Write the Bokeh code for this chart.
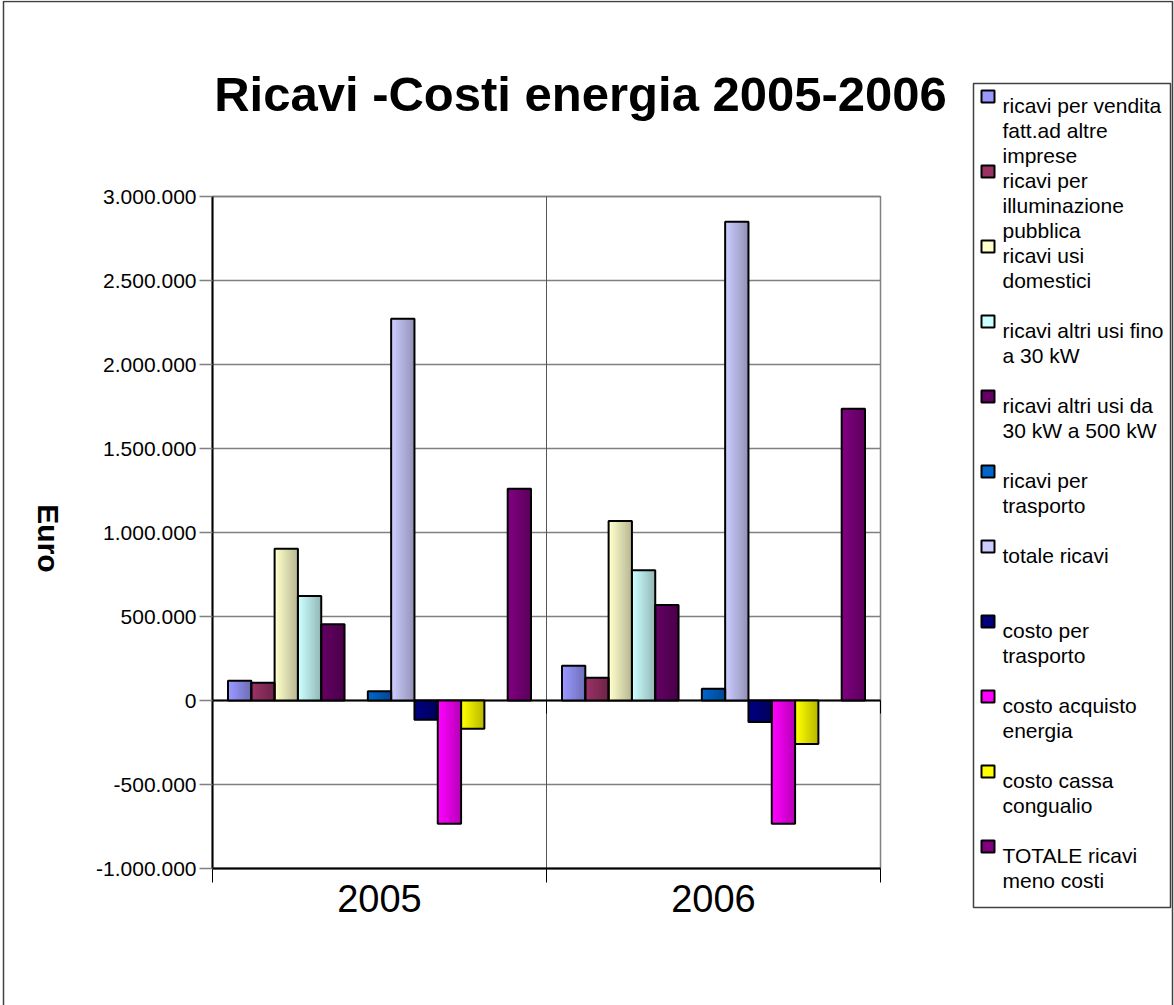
import math
from bokeh.plotting import figure
from bokeh.models import FixedTicker, LinearAxis, Range1d
from bokeh.core.properties import value
from bokeh.embed import file_html
from bokeh.resources import INLINE

# ---- data -------------------------------------------------------------
years = ["2005", "2006"]

series_names = [
    "ricavi per vendita fatt.ad altre imprese",
    "ricavi per illuminazione pubblica",
    "ricavi usi domestici",
    "ricavi altri usi fino a 30 kW",
    "ricavi altri usi da 30 kW a 500 kW",
    "ricavi per trasporto",
    "totale ricavi",
    "costo per trasporto",
    "costo acquisto energia",
    "costo cassa congualio",
    "TOTALE ricavi meno costi",
]
legend_lines = [
    ["ricavi per vendita", "fatt.ad altre", "imprese"],
    ["ricavi per", "illuminazione", "pubblica"],
    ["ricavi usi", "domestici"],
    ["ricavi altri usi fino", "a 30 kW"],
    ["ricavi altri usi da", "30 kW a 500 kW"],
    ["ricavi per", "trasporto"],
    ["totale ricavi"],
    ["costo per", "trasporto"],
    ["costo acquisto", "energia"],
    ["costo cassa", "congualio"],
    ["TOTALE ricavi", "meno costi"],
]
values_2005 = [118000, 105000, 904000, 622000, 454000, 55000,
               2273000, -114000, -733000, -168000, 1261000]
values_2006 = [207000, 136000, 1068000, 775000, 568000, 70000,
               2850000, -128000, -733000, -259000, 1737000]

colors = ["#9999FF", "#993366", "#FFFFCC", "#CCFFFF", "#660066", "#0066CC",
          "#CCCCFF", "#000080", "#FF00FF", "#FFFF00", "#800080"]

# slot of each series inside a category group (two slots stay empty)
slots = [0, 1, 2, 3, 4, 6, 7, 8, 9, 10, 12]
n_slots = 13

ytick_values = [-1000000, -500000, 0, 500000, 1000000, 1500000,
                2000000, 2500000, 3000000]
ytick_labels = ["-1.000.000", "-500.000", "0", "500.000", "1.000.000",
                "1.500.000", "2.000.000", "2.500.000", "3.000.000"]

title_text = "Ricavi -Costi energia 2005-2006"
y_title = "Euro"

# ---- page geometry (pixels) --------------------------------------------
W, H = 1174, 1005
FL, FR, FT, FB = 212, 880, 196, 868          # plot area inside the canvas
FONT = "Liberation Sans"

x_lo, x_hi = -0.5, len(years) - 0.5
y_lo, y_hi = ytick_values[0], ytick_values[-1]
ux = (FR - FL) / (x_hi - x_lo)                # pixels per category
uy = (y_hi - y_lo) / (FB - FT)                # euro per pixel


def dx(px):
    return x_lo + (px - FL) / ux


def dy(py):
    return y_hi - (py - FT) * uy


# the frame covers the whole canvas; axes sit at fixed positions inside it
p = figure(width=W, height=H,
           x_range=Range1d(dx(0), dx(W)), y_range=Range1d(dy(H), dy(0)),
           x_axis_location=None, y_axis_location=None,
           output_backend="svg", toolbar_location=None, min_border=0)
p.background_fill_color = "white"
p.border_fill_color = "white"
p.outline_line_color = None
p.xgrid.visible = False
p.ygrid.visible = False

# outer chart border
p.quad(left=[dx(3)], right=[dx(1172)], top=[dy(1)], bottom=[dy(H + 40)],
       fill_color=None, line_color="#404040", line_width=1.5)

# plot area border, grid lines, group divider
p.quad(left=[x_lo], right=[x_hi], top=[y_hi], bottom=[y_lo],
       fill_color=None, line_color="#808080", line_width=1.5)
p.segment(x0=[x_lo] * len(ytick_values), x1=[x_hi] * len(ytick_values),
          y0=ytick_values, y1=ytick_values, line_color="#808080", line_width=1.5)
inner_bounds = [x_lo + i for i in range(1, len(years))]
p.segment(x0=inner_bounds, x1=inner_bounds, y0=[y_lo] * len(inner_bounds),
          y1=[y_hi] * len(inner_bounds), line_color="#555555", line_width=1)

# zero line with its small ticks at the group boundaries
p.segment(x0=[x_lo], x1=[x_hi], y0=[0], y1=[0], line_color="black", line_width=2)
zb = [x_lo + i for i in range(1, len(years) + 1)]
p.segment(x0=zb, x1=zb, y0=[0] * len(zb), y1=[-13 * uy] * len(zb),
          line_color="black", line_width=1)

# ---- bars with a shaded face --------------------------------------------
slot_w = 1.0 / (n_slots + 1.33)
n_strips = 10


def shade(hex_color, f):
    r = int(hex_color[1:3], 16)
    g = int(hex_color[3:5], 16)
    b = int(hex_color[5:7], 16)
    return "#%02x%02x%02x" % (int(r * f), int(g * f), int(b * f))


strip = dict(left=[], right=[], top=[], color=[])
outline = dict(x=[], top=[])
for j, vals in enumerate([values_2005, values_2006]):
    for s, v in enumerate(vals):
        cx = j + (slots[s] - (n_slots - 1) / 2) * slot_w
        outline["x"].append(cx)
        outline["top"].append(v)
        for k in range(n_strips):
            f = 1.0 - 0.27 * k / (n_strips - 1)
            strip["left"].append(cx - slot_w / 2 + k * slot_w / n_strips)
            strip["right"].append(cx + slot_w / 2)
            strip["top"].append(v)
            strip["color"].append(shade(colors[s], f))

p.quad(left="left", right="right", top="top", bottom=0,
       fill_color="color", line_color=None, source=strip)
p.vbar(x="x", top="top", bottom=0, width=slot_w, fill_color=None,
       line_color="black", line_width=2, source=outline)

# ---- axes ------------------------------------------------------------------
yaxis = LinearAxis(fixed_location=x_lo, bounds=(y_lo, y_hi),
                   ticker=FixedTicker(ticks=ytick_values))
yaxis.major_label_overrides = dict(zip(ytick_values, ytick_labels))
yaxis.major_label_text_font = FONT
yaxis.major_label_text_font_size = "21px"
yaxis.major_label_text_color = "black"
yaxis.major_tick_out = 13
yaxis.major_tick_in = 0
yaxis.major_tick_line_color = "#808080"
yaxis.major_tick_line_width = 1.5
yaxis.minor_tick_line_color = None
yaxis.axis_line_color = "black"
yaxis.axis_line_width = 2
yaxis.major_label_standoff = 3
p.add_layout(yaxis, "left")

group_bounds = [x_lo + i for i in range(len(years) + 1)]
xaxis = LinearAxis(fixed_location=y_lo, bounds=(x_lo, x_hi),
                   ticker=FixedTicker(ticks=list(range(len(years))),
                                      minor_ticks=group_bounds))
xaxis.major_label_overrides = {i: y for i, y in enumerate(years)}
xaxis.major_label_text_font = FONT
xaxis.major_label_text_font_size = "38px"
xaxis.major_label_text_color = "black"
xaxis.major_tick_out = 0
xaxis.major_tick_in = 0
xaxis.minor_tick_out = 14
xaxis.minor_tick_in = 0
xaxis.minor_tick_line_color = "black"
xaxis.minor_tick_line_width = 1
xaxis.axis_line_color = "black"
xaxis.axis_line_width = 2
xaxis.major_label_standoff = 2
p.add_layout(xaxis, "below")

# ---- title and axis title ----------------------------------------------------
p.text(x=[dx(580)], y=[dy(93)], text=[title_text], text_align="center",
       text_baseline="alphabetic", text_font=value(FONT),
       text_font_size="49px", text_font_style="bold", text_color="black")
p.text(x=[dx(48)], y=[dy(538)], text=[y_title], angle=-math.pi / 2,
       text_align="center", text_baseline="middle", text_font=value(FONT),
       text_font_size="30px", text_font_style="bold", text_color="black")

# ---- legend ----------------------------------------------------------------
p.quad(left=[dx(973)], right=[dx(1170)], top=[dy(83)], bottom=[dy(907)],
       fill_color="white", line_color="#404040", line_width=1.5)

entry_step = 75
first_base = 105
sq = dict(left=[], right=[], top=[], bottom=[], color=[])
tx = dict(x=[], y=[], text=[])
for i, lines in enumerate(legend_lines):
    base = first_base + i * entry_step
    sq["left"].append(dx(981))
    sq["right"].append(dx(994))
    sq["top"].append(dy(base - 15))
    sq["bottom"].append(dy(base - 3))
    sq["color"].append(colors[i])
    for li, line in enumerate(lines):
        tx["x"].append(dx(1002))
        tx["y"].append(dy(base + li * 25))
        tx["text"].append(line)

p.quad(left="left", right="right", top="top", bottom="bottom",
       fill_color="color", line_color="black", line_width=2, source=sq)
p.text(x="x", y="y", text="text", text_align="left", text_baseline="alphabetic",
       text_font=value(FONT), text_font_size="21px", text_color="black",
       source=tx)

open("out.html", "w").write(file_html(p, INLINE))
